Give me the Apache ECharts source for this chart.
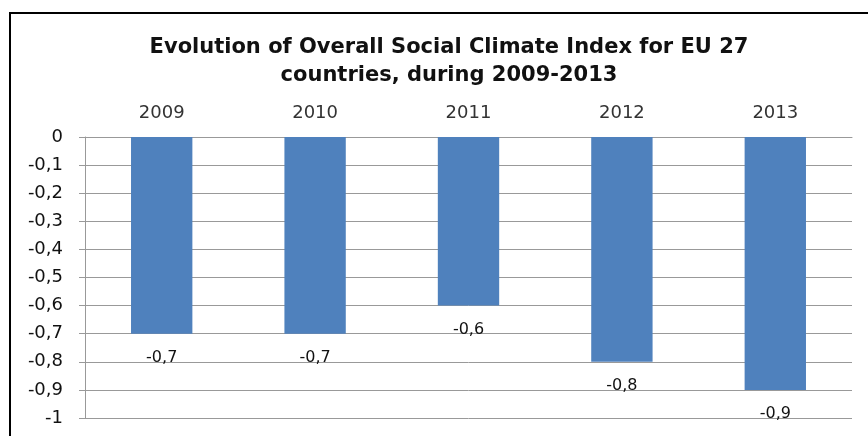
<!DOCTYPE html>
<html>
<head>
<meta charset="utf-8">
<script src="https://cdn.jsdelivr.net/npm/echarts@6/dist/echarts.min.js"></script>
<style>
  html, body { margin: 0; padding: 0; background: #ffffff; }
  #chart { width: 868px; height: 436px; }
</style>
</head>
<body>
<div id="chart"></div>
<script>
// Overall Social Climate Index, EU 27
const years = ['2009', '2010', '2011', '2012', '2013'];
const indexValues = [-0.7, -0.7, -0.6, -0.8, -0.9];
const chartTitle = 'Evolution of Overall Social Climate Index for EU 27\ncountries, during 2009-2013';

const fmt = v => String(+Number(v).toFixed(1)).replace('.', ',');

const chart = echarts.init(document.getElementById('chart'));
chart.setOption({
  backgroundColor: '#ffffff',
  animation: false,
  title: {
    text: chartTitle,
    left: 444,
    top: 29,
    textAlign: 'center',
    textStyle: {
      fontFamily: 'DejaVu Sans',
      fontWeight: 'bold',
      fontSize: 21,
      lineHeight: 28,
      color: '#111111'
    }
  },
  graphic: [{
    type: 'polyline',
    shape: { points: [[10, 440], [10, 13], [870, 13]] },
    style: { stroke: '#000000', lineWidth: 2, fill: null }
  }],
  grid: { left: 85, right: 16, top: 137, bottom: 18 },
  xAxis: {
    type: 'category',
    position: 'top',
    data: years,
    axisLine: { lineStyle: { color: '#999999', width: 1 } },
    axisTick: { inside: true, length: 7, lineStyle: { color: '#999999' } },
    axisLabel: {
      fontFamily: 'DejaVu Sans',
      fontSize: 18,
      color: '#333333',
      margin: 15
    }
  },
  yAxis: {
    type: 'value',
    min: -1,
    max: 0,
    interval: 0.1,
    axisLine: { show: true, lineStyle: { color: '#999999', width: 1 } },
    axisTick: { show: true, length: 6, lineStyle: { color: '#999999' } },
    splitLine: { lineStyle: { color: '#999999', width: 1 } },
    axisLabel: {
      formatter: fmt,
      fontFamily: 'DejaVu Sans',
      fontSize: 18,
      color: '#111111',
      margin: 22
    }
  },
  series: [{
    type: 'bar',
    data: indexValues,
    barWidth: '40%',
    itemStyle: { color: '#4F81BD' },
    label: {
      show: true,
      position: 'bottom',
      distance: 16,
      formatter: p => fmt(p.value),
      fontFamily: 'DejaVu Sans',
      fontSize: 16,
      color: '#111111'
    }
  }]
});
</script>
</body>
</html>
